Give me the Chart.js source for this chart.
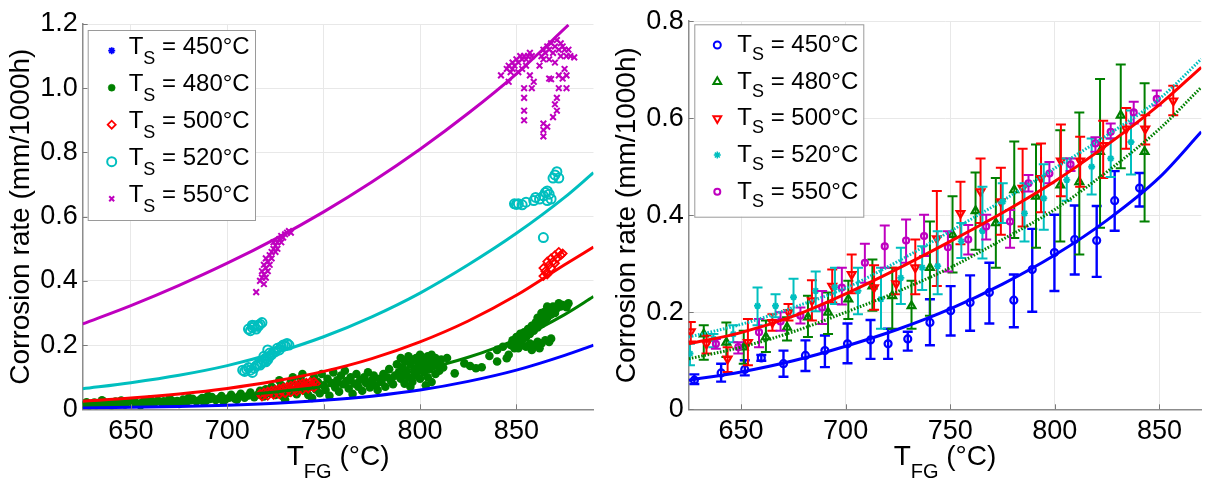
<!DOCTYPE html>
<html><head><meta charset="utf-8">
<script src="https://cdn.jsdelivr.net/npm/chart.js@4.4.0/dist/chart.umd.min.js"></script>
<style>
html,body{margin:0;padding:0;background:#fff;width:1208px;height:481px;overflow:hidden}
canvas{position:absolute;top:0}
#c1{left:0}
#c2{left:600px}
</style></head><body>
<canvas id="c1" width="600" height="481"></canvas>
<canvas id="c2" width="608" height="481"></canvas>
<script>
// ---------------- data ----------------
const xTickValues = [650, 700, 750, 800, 850];
const yTicksLeft = [0, 0.2, 0.4, 0.6, 0.8, 1, 1.2];
const yTicksRight = [0, 0.2, 0.4, 0.6, 0.8];
const legendTemps = ['450', '480', '500', '520', '550'];
const yTitleText = 'Corrosion rate (mm/1000h)';

// Left panel: fitted curves
const fitXLeft = [625, 650, 675, 700, 725, 750, 775, 800, 825, 850, 875, 890];
const fitLeft450 = [0.004, 0.006, 0.009, 0.013, 0.019, 0.028, 0.041, 0.060, 0.087, 0.122, 0.168, 0.200];
const fitLeft480 = [0.017, 0.023, 0.031, 0.041, 0.054, 0.071, 0.093, 0.122, 0.162, 0.218, 0.295, 0.351];
const fitLeft500 = [0.025, 0.035, 0.048, 0.065, 0.088, 0.118, 0.158, 0.210, 0.275, 0.355, 0.450, 0.505];
const fitLeft520 = [0.064, 0.083, 0.106, 0.136, 0.176, 0.226, 0.288, 0.362, 0.450, 0.548, 0.660, 0.737];
const fitXLeft550 = [625, 650, 675, 700, 725, 750, 775, 800, 825, 850, 877];
const fitLeft550 = [0.266, 0.323, 0.386, 0.455, 0.531, 0.615, 0.708, 0.810, 0.922, 1.045, 1.197];

// Left panel: measured points [T_FG, rate]
const pts450 = [];
const pts480 = [
 [626,0.014],[627,0.022],[629,0.016],[631,0.021],[632,0.013],[634,0.018],[636,0.023],[637,0.015],[639,0.02],[641,0.016],
 [642,0.024],[644,0.018],[646,0.021],[647,0.015],[649,0.025],[651,0.019],[652,0.023],[654,0.017],[656,0.022],[657,0.026],
 [659,0.019],[661,0.024],[662,0.018],[664,0.027],[666,0.021],[667,0.025],[669,0.02],[671,0.028],[672,0.023],[674,0.026],
 [676,0.021],[677,0.03],[679,0.024],[681,0.028],[682,0.033],[684,0.025],[686,0.03],[687,0.035],[689,0.027],[691,0.032],
 [692,0.038],[694,0.029],[696,0.034],[697,0.041],[699,0.031],[701,0.036],[702,0.045],[704,0.033],[706,0.04],[707,0.048],
 [709,0.036],[711,0.043],[712,0.052],[714,0.038],[716,0.046],[717,0.058],[680,0.036],[690,0.042],[660,0.03],[645,0.027],
 [635,0.028],[670,0.033],[705,0.03],[698,0.025],[688,0.022],[675,0.017],[655,0.013],[640,0.012],[628,0.01],
 [719,0.04],[720,0.062],[722,0.05],[723,0.07],[725,0.045],[726,0.058],[728,0.075],[729,0.04],[731,0.065],[732,0.052],
 [733,0.085],[735,0.06],[736,0.047],[737,0.072],[738,0.095],[740,0.058],[741,0.08],[742,0.045],[743,0.07],[745,0.1],
 [746,0.062],[747,0.085],[748,0.05],[749,0.11],[750,0.075],[751,0.06],[752,0.095],[753,0.042],[754,0.082],[755,0.115],
 [756,0.068],[757,0.09],[758,0.055],[759,0.105],[760,0.078],[761,0.12],[762,0.088],[763,0.065],[764,0.1],[765,0.048],
 [766,0.08],[767,0.11],[768,0.07],[769,0.092],[770,0.058],[771,0.1],[772,0.082],[773,0.115],[774,0.068],[775,0.09],
 [776,0.105],[777,0.075],[778,0.06],[779,0.095],[780,0.085],[781,0.11],[782,0.07],[783,0.1],[784,0.125],[785,0.088],
 [786,0.078],[787,0.105],[730,0.03],[744,0.035],[739,0.11],[727,0.09],[734,0.1],
 [788,0.14],[789,0.115],[790,0.16],[790,0.095],[791,0.13],[792,0.15],[792,0.08],[793,0.12],[794,0.165],[794,0.1],
 [795,0.14],[796,0.155],[796,0.085],[797,0.125],[798,0.16],[798,0.11],[799,0.145],[800,0.17],[800,0.095],[801,0.13],
 [802,0.155],[802,0.115],[803,0.14],[804,0.165],[804,0.1],[805,0.125],[806,0.15],[806,0.085],[807,0.135],[808,0.16],
 [808,0.11],[809,0.145],[810,0.12],[811,0.155],[812,0.13],[795,0.07],[803,0.075],[799,0.125],[791,0.105],[806,0.17],
 [810,0.14],[797,0.105],
 [814,0.16],[818,0.112],[823,0.143],[829,0.128],[832,0.131],[836,0.166],[840,0.185],[840,0.149],[845,0.159],[826,0.135],[843,0.195],
 [846,0.17],[847,0.2],[848,0.215],[849,0.19],[850,0.225],[851,0.205],[852,0.235],[853,0.215],[854,0.24],[855,0.225],
 [856,0.25],[857,0.235],[858,0.26],[859,0.245],[860,0.27],[861,0.255],[862,0.28],[863,0.265],[864,0.29],[865,0.275],
 [865,0.305],[866,0.285],[867,0.31],[868,0.295],[869,0.32],[870,0.3],[871,0.315],[872,0.33],[873,0.32],[874,0.325],
 [876,0.318],[877,0.33],[866,0.32],[863,0.3],[861,0.285],
 [851,0.19],[853,0.2],[855,0.195],[857,0.205],[859,0.2],[861,0.21],[863,0.205],[865,0.215],[867,0.21],[868,0.22],[858,0.185],[862,0.19]
];
const pts500 = [
 [717,0.048],[719,0.052],[721,0.055],[723,0.058],[725,0.061],[727,0.064],[729,0.067],[731,0.07],[733,0.073],[735,0.076],
 [737,0.079],[739,0.081],[741,0.083],[743,0.085],[745,0.086],[718,0.040],[721,0.042],[724,0.045],[727,0.047],[730,0.05],
 [733,0.053],[736,0.056],[739,0.06],[742,0.064],[745,0.068],[728,0.058],[732,0.062],[736,0.066],[740,0.07],[744,0.076],
 [746,0.08],[738,0.072],[742,0.077],
 [864,0.44],[865,0.43],[866,0.46],[867,0.45],[866,0.42],[868,0.47],[869,0.46],[870,0.48],[871,0.47],[872,0.49],
 [873,0.48],[874,0.485],[868,0.44],[870,0.455],[864,0.415]
];
const pts520 = [
 [711,0.25],[712,0.245],[713,0.255],[714,0.26],[715,0.25],[716,0.262],[717,0.265],[718,0.27],[716,0.258],[713,0.262],
 [708,0.122],[709,0.118],[710,0.125],[711,0.13],[712,0.122],[713,0.115],[714,0.128],[715,0.135],[716,0.14],[717,0.138],
 [718,0.145],[719,0.15],[720,0.148],[720,0.16],[721,0.155],[722,0.165],[722,0.175],[723,0.17],[724,0.178],[725,0.18],
 [726,0.19],[727,0.185],[728,0.195],[729,0.2],[730,0.198],[731,0.205],[732,0.2],[721,0.185],[719,0.165],
 [849,0.64],[850,0.638],[851,0.64],[853,0.637],[855,0.645],[859,0.65],[860,0.66],[862,0.655],[864,0.665],[865,0.675],
 [866,0.68],[867,0.67],[868,0.655],[866,0.65],[869,0.72],[870,0.73],[871,0.74],[872,0.72],[864,0.535]
];
const pts550 = [
 [715,0.365],[717,0.40],[718,0.41],[718,0.43],[719,0.42],[719,0.45],[720,0.44],[720,0.47],[721,0.46],[721,0.43],
 [722,0.48],[722,0.45],[723,0.49],[723,0.47],[724,0.5],[724,0.52],[725,0.49],[725,0.51],[726,0.52],[726,0.5],
 [727,0.53],[728,0.52],[728,0.54],[729,0.535],[730,0.545],[731,0.55],[732,0.555],[733,0.55],[719,0.39],[720,0.41],
 [842,1.04],[845,1.06],[846,1.07],[847,1.05],[848,1.08],[849,1.07],[850,1.09],[851,1.08],[852,1.1],[853,1.09],
 [854,1.1],[855,1.09],[856,1.1],[857,1.11],[858,1.1],[848,1.06],[846,1.02],[851,1.05],[853,1.06],[855,1.07],
 [854,1.0],[854,0.97],[854,0.93],[854,0.9],[857,1.04],[859,1.02],[858,1.0],
 [862,1.07],[863,1.1],[864,1.12],[865,1.11],[866,1.13],[867,1.12],[868,1.14],[869,1.11],[870,1.13],[871,1.15],
 [872,1.12],[873,1.14],[874,1.13],[875,1.12],[876,1.1],[877,1.12],[878,1.1],[864,1.09],[867,1.09],[870,1.08],
 [873,1.1],[875,1.06],[872,1.04],[874,1.03],[876,1.04],[880,1.096],
 [864,0.89],[864,0.87],[864,0.85],[866,0.88],[871,0.97],[870,0.95],[869,0.91],[871,0.93],[867,1.03],[868,1.028],[872,1.0],[876,1.0]
];

// Right panel: fitted curves
const fitXRight = [625, 650, 675, 700, 725, 750, 775, 800, 825, 850, 870];
const fitRight450 = [0.060, 0.077, 0.100, 0.130, 0.165, 0.207, 0.258, 0.318, 0.390, 0.478, 0.572];
const fitRight480 = [0.104, 0.128, 0.160, 0.200, 0.243, 0.292, 0.350, 0.412, 0.490, 0.578, 0.664];
const fitRight500 = [0.135, 0.158, 0.192, 0.238, 0.290, 0.346, 0.405, 0.470, 0.545, 0.628, 0.705];
const fitRight520 = [0.149, 0.175, 0.210, 0.250, 0.305, 0.367, 0.430, 0.497, 0.565, 0.640, 0.722];

// Right panel: mean with error bars [T_FG, rate, low, high]
const err450 = [
 [627.7,0.060,0.052,0.072],[640.5,0.075,0.057,0.094],[651.8,0.082,0.070,0.101],[659.7,0.106,0.100,0.112],
 [670.3,0.094,0.067,0.121],[680.8,0.111,0.079,0.142],[690.1,0.121,0.087,0.152],[700.9,0.135,0.095,0.177],
 [711.9,0.143,0.104,0.184],[720.3,0.135,0.104,0.166],[729.7,0.145,0.121,0.160],[740.3,0.179,0.132,0.227],
 [750.2,0.203,0.152,0.254],[759.5,0.220,0.162,0.276],[768.7,0.241,0.177,0.302],[780.4,0.225,0.169,0.278],
 [789.2,0.288,0.201,0.372],[799.8,0.323,0.244,0.401],[809.5,0.350,0.278,0.420],[820.0,0.348,0.273,0.419],
 [828.6,0.430,0.368,0.491],[840.5,0.456,0.418,0.487]
];
const err480 = [
 [632.2,0.155,0.102,0.173],[643.0,0.138,0.108,0.179],[651.3,0.128,0.094,0.162],[661.9,0.149,0.118,0.183],
 [672.0,0.169,0.142,0.190],[682.0,0.190,0.149,0.234],[691.6,0.200,0.155,0.241],[701.3,0.227,0.186,0.265],
 [712.8,0.254,0.203,0.309],[722.3,0.234,0.166,0.292],[731.5,0.213,0.166,0.265],[740.3,0.292,0.193,0.387],
 [751.1,0.360,0.282,0.439],[762.1,0.409,0.329,0.488],[771.8,0.384,0.292,0.477],[780.6,0.452,0.353,0.552],
 [791.0,0.439,0.333,0.546],[802.6,0.462,0.346,0.575],[811.7,0.469,0.319,0.612],[821.6,0.531,0.374,0.681],
 [831.5,0.606,0.497,0.711],[842.9,0.531,0.387,0.672]
];
const err500 = [
 [626.0,0.160,0.140,0.180],[633.5,0.135,0.115,0.152],[643.6,0.104,0.077,0.128],[653.3,0.138,0.091,0.186],
 [665.0,0.179,0.162,0.196],[672.7,0.200,0.183,0.217],[683.9,0.224,0.183,0.266],[693.6,0.254,0.220,0.288],
 [702.9,0.278,0.239,0.319],[713.6,0.251,0.205,0.297],[724.2,0.259,0.237,0.292],[733.3,0.292,0.237,0.350],
 [743.6,0.352,0.254,0.450],[754.9,0.404,0.340,0.469],[764.5,0.449,0.384,0.517],[774.2,0.428,0.360,0.498],
 [784.6,0.456,0.377,0.537],[793.4,0.476,0.406,0.548],[802.9,0.512,0.439,0.587],[812.1,0.512,0.459,0.562],
 [823.1,0.544,0.477,0.595],[834.1,0.578,0.537,0.621],[843.2,0.578,0.546,0.606],[856.6,0.636,0.606,0.667]
];
const err520 = [
 [625.6,0.115,0.091,0.135],[636.8,0.145,0.128,0.155],[646.3,0.155,0.138,0.173],[657.9,0.213,0.173,0.251],
 [666.5,0.213,0.190,0.237],[675.1,0.231,0.193,0.269],[685.7,0.244,0.202,0.284],[694.9,0.252,0.217,0.292],
 [705.9,0.244,0.196,0.292],[716.9,0.227,0.166,0.292],[726.4,0.271,0.217,0.333],[736.6,0.292,0.246,0.336],
 [744.0,0.295,0.237,0.367],[755.3,0.346,0.312,0.384],[765.4,0.368,0.311,0.459],[775.1,0.428,0.384,0.466],
 [785.5,0.404,0.346,0.466],[794.7,0.435,0.370,0.505],[805.7,0.473,0.430,0.517],[817.6,0.500,0.443,0.558],
 [826.7,0.517,0.479,0.558],[836.4,0.551,0.484,0.616]
];
const err550 = [
 [638.0,0.135,0.125,0.145],[648.7,0.128,0.115,0.138],[658.6,0.159,0.128,0.186],[668.9,0.181,0.162,0.200],
 [678.4,0.193,0.177,0.210],[688.8,0.210,0.176,0.244],[698.2,0.251,0.216,0.292],[709.2,0.302,0.261,0.341],
 [718.7,0.336,0.292,0.379],[728.9,0.348,0.302,0.391],[737.5,0.357,0.316,0.401],[748.9,0.334,0.284,0.367],
 [758.6,0.350,0.319,0.380],[767.2,0.377,0.350,0.401],[778.6,0.387,0.333,0.411],[787.4,0.466,0.449,0.483],
 [797.4,0.486,0.466,0.510],[807.5,0.505,0.491,0.517],[819.4,0.548,0.531,0.561],[826.7,0.572,0.558,0.589],
 [837.7,0.612,0.589,0.634],[848.7,0.640,0.626,0.657]
];

// ---------------- styles ----------------
const FONT = "'Liberation Sans', Arial, Helvetica, sans-serif";
const C_BLUE = '#0000ff', C_GREEN = '#008000', C_RED = '#ff0000', C_CYAN = '#00bfbf', C_MAG = '#bf00bf';
const TRANSP = 'rgba(0,0,0,0)';

const xy = arr => arr.map(r => ({x: r[0], y: r[1]}));
const curve = (xs, ys) => xs.map((x, i) => ({x: x, y: ys[i]}));

function lineDs(xs, ys, color, dotted) {
  return {data: curve(xs, ys), showLine: true, borderColor: color, borderWidth: 3,
    pointRadius: 0, cubicInterpolationMode: 'monotone', fill: false,
    borderDash: dotted ? [1.6, 1.6] : [], borderCapStyle: 'butt'};
}
function ptsDs(arr, color, style, r, filled, bw, rot) {
  return {data: xy(arr), showLine: false, pointStyle: style, pointRadius: r,
    pointRotation: rot || 0, borderColor: color, backgroundColor: filled ? color : TRANSP,
    pointBorderWidth: bw, borderWidth: bw};
}
function errDs(arr, color, style, r, filled, bw, rot, ebw) {
  const d = ptsDs(arr, color, style, r, filled, bw, rot);
  d.errLo = arr.map(r => r[2]);
  d.errHi = arr.map(r => r[3]);
  d.errWidth = ebw;
  return d;
}

function drawSub(ctx, parts, x, y, center) {
  let total = 0;
  parts.forEach(p => { ctx.font = p.size + 'px ' + FONT; p.w = ctx.measureText(p.t).width; total += p.w; });
  let cx = center ? x - total / 2 : x;
  ctx.textAlign = 'left'; ctx.textBaseline = 'alphabetic';
  parts.forEach(p => { ctx.font = p.size + 'px ' + FONT; ctx.fillText(p.t, cx, y + p.dy); cx += p.w; });
}

const errorBarPlugin = {
  id: 'errbars',
  afterDatasetDraw(chart, args) {
    const ds = chart.data.datasets[args.index];
    if (!ds.errLo) return;
    const ctx = chart.ctx, xs = chart.scales.x, ys = chart.scales.y, a = chart.chartArea;
    ctx.save();
    ctx.beginPath(); ctx.rect(a.left, a.top, a.right - a.left, a.bottom - a.top); ctx.clip();
    ctx.strokeStyle = ds.borderColor; ctx.lineWidth = ds.errWidth;
    ctx.beginPath();
    ds.data.forEach((p, i) => {
      const px = xs.getPixelForValue(p.x);
      const lo = ys.getPixelForValue(ds.errLo[i]);
      const hi = ys.getPixelForValue(ds.errHi[i]);
      ctx.moveTo(px, lo); ctx.lineTo(px, hi);
      ctx.moveTo(px - 5, lo); ctx.lineTo(px + 5, lo);
      ctx.moveTo(px - 5, hi); ctx.lineTo(px + 5, hi);
    });
    ctx.stroke();
    ctx.restore();
  }
};

function decorPlugin(cfg) {
  return {
    id: 'decor',
    afterDraw(chart) {
      const ctx = chart.ctx, a = chart.chartArea, xs = chart.scales.x, ys = chart.scales.y;
      ctx.save();
      // inward tick marks
      ctx.strokeStyle = '#7a7a7a'; ctx.lineWidth = 1;
      ctx.beginPath();
      xs.ticks.forEach(t => { const p = Math.round(xs.getPixelForValue(t.value)) + 0.5; ctx.moveTo(p, a.bottom); ctx.lineTo(p, a.bottom - 5); });
      ys.ticks.forEach(t => { const p = Math.round(ys.getPixelForValue(t.value)) + 0.5; ctx.moveTo(a.left, p); ctx.lineTo(a.left + 5, p); });
      ctx.stroke();
      // y title
      ctx.fillStyle = '#000';
      ctx.save();
      ctx.translate(a.left - 61, (a.top + a.bottom) / 2);
      ctx.rotate(-Math.PI / 2);
      ctx.font = '28px ' + FONT; ctx.textAlign = 'center'; ctx.textBaseline = 'middle';
      ctx.fillText(yTitleText, 0, 0);
      ctx.restore();
      // x title with subscript
      drawSub(ctx, [{t: 'T', size: 28, dy: 0}, {t: 'FG', size: 20, dy: 13}, {t: ' (°C)', size: 28, dy: 0}],
        (a.left + a.right) / 2, 465, true);
      // legend
      const L = cfg.legend;
      ctx.fillStyle = '#fff'; ctx.strokeStyle = '#9a9a9a'; ctx.lineWidth = 1;
      ctx.fillRect(L.x, L.y, L.w, L.h);
      ctx.strokeRect(L.x + 0.5, L.y + 0.5, L.w, L.h);
      legendTemps.forEach((t, i) => {
        const cy = L.y + L.first + i * L.step;
        const m = L.markers[i];
        ctx.save();
        ctx.strokeStyle = m.color; ctx.fillStyle = m.filled ? m.color : TRANSP; ctx.lineWidth = m.bw;
        Chart.helpers.drawPoint(ctx, {pointStyle: m.style, radius: m.r, rotation: m.rot || 0, borderWidth: m.bw}, L.x + L.mx, cy);
        ctx.restore();
        ctx.fillStyle = '#000';
        drawSub(ctx, [{t: 'T', size: 24, dy: 0}, {t: 'S', size: 18, dy: L.dyS - L.dyT}, {t: ' = ' + t + '°C', size: 24, dy: 0}],
          L.x + L.tx, cy + L.dyT, false);
      });
      ctx.restore();
    }
  };
}

function axisOpts(min, max, tickVals, size, isX, pad) {
  return {
    type: 'linear', min: min, max: max,
    afterBuildTicks: ax => { ax.ticks = tickVals.map(v => ({value: v})); },
    afterFit: ax => { if (isX) ax.height = size; else ax.width = size; },
    grid: {color: '#e8e8e8', lineWidth: 1, drawTicks: false},
    border: {color: '#8c8c8c', width: 1.5},
    ticks: {font: {family: FONT, size: 27}, color: '#000', padding: pad, maxRotation: 0, autoSkip: false}
  };
}

function baseOptions(padding, xmax, ymax, yTicks, yWidth) {
  return {
    responsive: false, animation: false, events: [],
    layout: {padding: padding},
    plugins: {legend: {display: false}, tooltip: {enabled: false}},
    scales: {
      x: axisOpts(625, xmax, xTickValues, 71.7, true, 6),
      y: axisOpts(0, ymax, yTicks, yWidth, false, 5)
    }
  };
}

// ---------------- left chart ----------------
new Chart(document.getElementById('c1'), {
  type: 'scatter',
  data: {datasets: [
    lineDs(fitXLeft550, fitLeft550, C_MAG, false),
    lineDs(fitXLeft, fitLeft520, C_CYAN, false),
    lineDs(fitXLeft, fitLeft500, C_RED, false),
    lineDs(fitXLeft, fitLeft480, C_GREEN, false),
    lineDs(fitXLeft, fitLeft450, C_BLUE, false),
    ptsDs(pts550, C_MAG, 'crossRot', 4, false, 2),
    ptsDs(pts520, C_CYAN, 'circle', 4.5, false, 2),
    ptsDs(pts500, C_RED, 'rectRot', 4, false, 1.8),
    ptsDs(pts480, C_GREEN, 'circle', 4.3, true, 0),
    ptsDs(pts450, C_BLUE, 'star', 4, false, 1.5)
  ]},
  options: baseOptions({left: 0, right: 3.3, top: 24, bottom: 0}, 890, 1.2, yTicksLeft, 82.7),
  plugins: [decorPlugin({legend: {
    x: 87.7, y: 30, w: 167.3, h: 190, first: 20.7, step: 37, mx: 24, tx: 41, dyT: 3, dyS: 13,
    markers: [
      {style: 'star', r: 3.5, color: C_BLUE, filled: false, bw: 1.8},
      {style: 'circle', r: 3.5, color: C_GREEN, filled: true, bw: 0.5},
      {style: 'rectRot', r: 4, color: C_RED, filled: false, bw: 1.8},
      {style: 'circle', r: 4.5, color: C_CYAN, filled: false, bw: 2},
      {style: 'crossRot', r: 3.5, color: C_MAG, filled: false, bw: 2}
    ]}})]
});

// ---------------- right chart ----------------
new Chart(document.getElementById('c2'), {
  type: 'scatter',
  data: {datasets: [
    lineDs(fitXRight, fitRight450, C_BLUE, false),
    lineDs(fitXRight, fitRight500, C_RED, false),
    lineDs(fitXRight, fitRight480, C_GREEN, true),
    lineDs(fitXRight, fitRight520, C_CYAN, true),
    errDs(err550, C_MAG, 'circle', 3, false, 2.2, 0, 2),
    errDs(err520, C_CYAN, 'star', 3.5, false, 1.8, 0, 2),
    errDs(err500, C_RED, 'triangle', 4.5, false, 2.2, 180, 2),
    errDs(err480, C_GREEN, 'triangle', 4.5, false, 2.2, 0, 2),
    errDs(err450, C_BLUE, 'circle', 3.5, false, 2.2, 0, 2.4)
  ]},
  options: baseOptions({left: 0, right: 0.7, top: 18.3, bottom: 0}, 870, 0.8, yTicksRight, 88.7),
  plugins: [errorBarPlugin, decorPlugin({legend: {
    x: 94.3, y: 24.3, w: 169, h: 192.4, first: 20.7, step: 36.7, mx: 23, tx: 43, dyT: 7, dyS: 15,
    markers: [
      {style: 'circle', r: 3.5, color: C_BLUE, filled: false, bw: 2},
      {style: 'triangle', r: 4.5, color: C_GREEN, filled: false, bw: 2},
      {style: 'triangle', r: 4.5, color: C_RED, filled: false, bw: 2, rot: 180},
      {style: 'star', r: 3.5, color: C_CYAN, filled: false, bw: 1.5},
      {style: 'circle', r: 3, color: C_MAG, filled: false, bw: 2}
    ]}})]
});
</script>
</body></html>
